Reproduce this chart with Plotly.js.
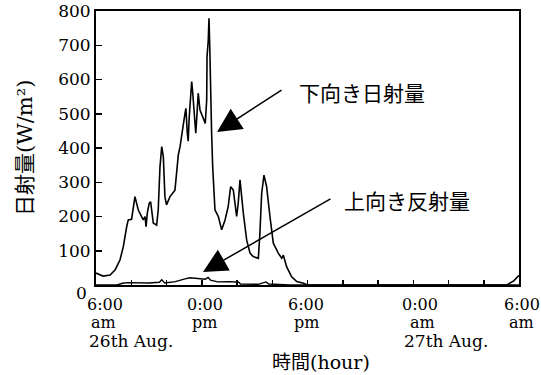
<!DOCTYPE html>
<html>
<head>
<meta charset="utf-8">
<script src="https://cdn.plot.ly/plotly-3.0.1.min.js"></script>
<style>
  html, body { margin: 0; padding: 0; background: #fff; }
  #chart { width: 541px; height: 375px; }
</style>
</head>
<body>
<div id="chart"></div>
<script>
// Solar radiation record, 6:00 am 26th Aug to 6:00 am 27th Aug.
// Time is in hours counted from midnight of the 26th.
const downHours = [6.0, 6.4, 6.8, 7.08, 7.36, 7.55, 7.74, 7.83, 8.02, 8.16, 8.21, 8.4, 8.59, 8.68, 8.78, 8.84, 8.91, 9.02, 9.1, 9.18, 9.25, 9.44, 9.53, 9.63, 9.73, 9.82, 9.91, 10.0, 10.2, 10.48, 10.58, 10.67, 10.77, 10.86, 10.95, 11.05, 11.1, 11.18, 11.23, 11.29, 11.37, 11.43, 11.49, 11.56, 11.66, 11.72, 11.8, 11.9, 12.05, 12.2, 12.28, 12.3, 12.37, 12.41, 12.45, 12.5, 12.56, 12.62, 12.69, 12.75, 12.94, 13.13, 13.32, 13.5, 13.64, 13.79, 13.98, 14.07, 14.17, 14.26, 14.36, 14.55, 14.74, 14.92, 15.21, 15.3, 15.4, 15.53, 15.68, 15.87, 16.06, 16.34, 16.54, 16.63, 16.82, 17.1, 17.39, 17.77, 18.0, 29.3, 29.7, 30.0];
const downWm2 = [35, 26, 29, 44, 73, 112, 170, 190, 192, 248, 258, 219, 200, 190, 200, 170, 210, 239, 243, 210, 181, 175, 219, 345, 404, 375, 258, 234, 258, 277, 345, 380, 404, 444, 467, 501, 516, 443, 420, 491, 560, 594, 560, 511, 443, 491, 560, 511, 491, 472, 540, 667, 715, 779, 706, 560, 443, 345, 258, 219, 200, 161, 190, 229, 287, 277, 200, 239, 307, 248, 209, 131, 93, 83, 78, 151, 268, 321, 287, 200, 122, 93, 78, 87, 53, 24, 10, 5, 0, 0, 12, 28];

const upHours = [6.0, 7.2, 7.5, 7.8, 9.0, 9.6, 9.73, 9.9, 10.5, 10.77, 11.05, 11.33, 11.7, 12.07, 12.2, 12.36, 12.5, 12.9, 13.6, 14.1, 14.2, 15.2, 15.5, 15.65, 15.8, 16.5, 17.0, 30.0];
const upWm2 = [0, 0, 5, 7, 6, 8, 15, 6, 10, 15, 18, 21, 20, 18, 17, 22, 14, 9, 10, 8, 3, 2, 6, 9, 3, 1, 0, 0];

// Axis ticks and labels
const tickHours = [6, 8, 10, 12, 14, 16, 18, 20, 22, 24, 26, 28, 30];
const labelHours = [6, 12, 18, 24, 30];
const labelClock = ['6:00', '0:00', '6:00', '0:00', '6:00'];
const labelMeridiem = ['am', 'pm', 'pm', 'am', 'am'];
const dateHours = [6, 24];
const dateLabels = ['26th Aug.', '27th Aug.'];
const yTicks = [100, 200, 300, 400, 500, 600, 700, 800];

// Series names and where their arrows point
const seriesNames = ['下向き日射量', '上向き反射量'];
const arrowTip = [[12.87, 447], [12.07, 38]];
const arrowTail = [[16.61, 572], [19.39, 254]];
const nameAt = [[21.09, 564], [23.65, 248]];

// Pixel nudges for the hand-set time labels
const clockNudge = [9, 3, -2, 7, 3];
const meridiemNudge = [7, 3, -1, 9, 2];
const dateNudge = [-9, -11];

const serif = 'DejaVu Serif, Noto Sans CJK JP, serif';
const jp = 'Noto Sans CJK JP, sans-serif';

const traces = [
  { x: downHours, y: downWm2, type: 'scatter', mode: 'lines', name: seriesNames[0],
    line: { color: '#000', width: 1.6 }, cliponaxis: false },
  { x: upHours, y: upWm2, type: 'scatter', mode: 'lines', name: seriesNames[1],
    line: { color: '#000', width: 1.4 }, cliponaxis: false }
];

const annotations = [];
labelHours.forEach((h, i) => {
  annotations.push({ x: h, y: 0, xref: 'x', yref: 'paper', text: labelClock[i], showarrow: false,
    xanchor: 'center', yanchor: 'middle', xshift: clockNudge[i], yshift: -19,
    font: { family: serif, size: 16, color: '#000' } });
  annotations.push({ x: h, y: 0, xref: 'x', yref: 'paper', text: labelMeridiem[i], showarrow: false,
    xanchor: 'center', yanchor: 'middle', xshift: meridiemNudge[i], yshift: -37,
    font: { family: serif, size: 16, color: '#000' } });
});
dateHours.forEach((h, i) => {
  annotations.push({ x: h, y: 0, xref: 'x', yref: 'paper', text: dateLabels[i], showarrow: false,
    xanchor: 'left', yanchor: 'middle', xshift: dateNudge[i], yshift: -56,
    font: { family: serif, size: 17, color: '#000' } });
});
// zero label of the value axis sits a little low
annotations.push({ x: 0, y: 0, xref: 'paper', yref: 'y', text: '0', showarrow: false,
  xanchor: 'right', yanchor: 'middle', xshift: -7, yshift: -8,
  font: { family: serif, size: 17, color: '#000' } });
// axis titles
annotations.push({ x: 0.5, y: 0, xref: 'paper', yref: 'paper', text: '時間(hour)', showarrow: false,
  xanchor: 'center', yanchor: 'middle', xshift: 13, yshift: -77,
  font: { family: serif, size: 19, color: '#000' } });
annotations.push({ x: 0, y: 0.5, xref: 'paper', yref: 'paper', text: '日射量(W/m²)', showarrow: false,
  textangle: -90, xanchor: 'center', yanchor: 'middle', xshift: -71,
  font: { family: serif, size: 21, color: '#000' } });
// series names with their pointer arrows
seriesNames.forEach((name, i) => {
  annotations.push({ x: nameAt[i][0], y: nameAt[i][1], xref: 'x', yref: 'y', text: name, showarrow: false,
    xanchor: 'center', yanchor: 'middle', font: { family: jp, size: 21, color: '#000' } });
  annotations.push({ x: arrowTip[i][0], y: arrowTip[i][1], xref: 'x', yref: 'y',
    ax: arrowTail[i][0], ay: arrowTail[i][1], axref: 'x', ayref: 'y', text: '',
    showarrow: true, arrowhead: 2, arrowsize: 3.2, arrowwidth: 1.5, arrowcolor: '#000', standoff: 0 });
});

const layout = {
  width: 541, height: 375,
  margin: { l: 96, r: 22, t: 11, b: 90, pad: 0 },
  paper_bgcolor: '#fff', plot_bgcolor: '#fff',
  showlegend: false,
  xaxis: {
    range: [6, 30], tickvals: tickHours, showticklabels: false,
    ticks: 'inside', ticklen: 5, tickwidth: 1.5, tickcolor: '#000',
    showline: true, linecolor: '#000', linewidth: 2, mirror: true,
    showgrid: false, zeroline: false, fixedrange: true
  },
  yaxis: {
    range: [0, 800], tickvals: yTicks,
    ticks: 'inside', ticklen: 6, tickwidth: 1.5, tickcolor: '#000',
    tickfont: { family: serif, size: 17, color: '#000' },
    showline: true, linecolor: '#000', linewidth: 2, mirror: true,
    showgrid: false, zeroline: false, fixedrange: true
  },
  annotations: annotations
};

Plotly.newPlot('chart', traces, layout, { staticPlot: true, displayModeBar: false });
</script>
</body>
</html>
